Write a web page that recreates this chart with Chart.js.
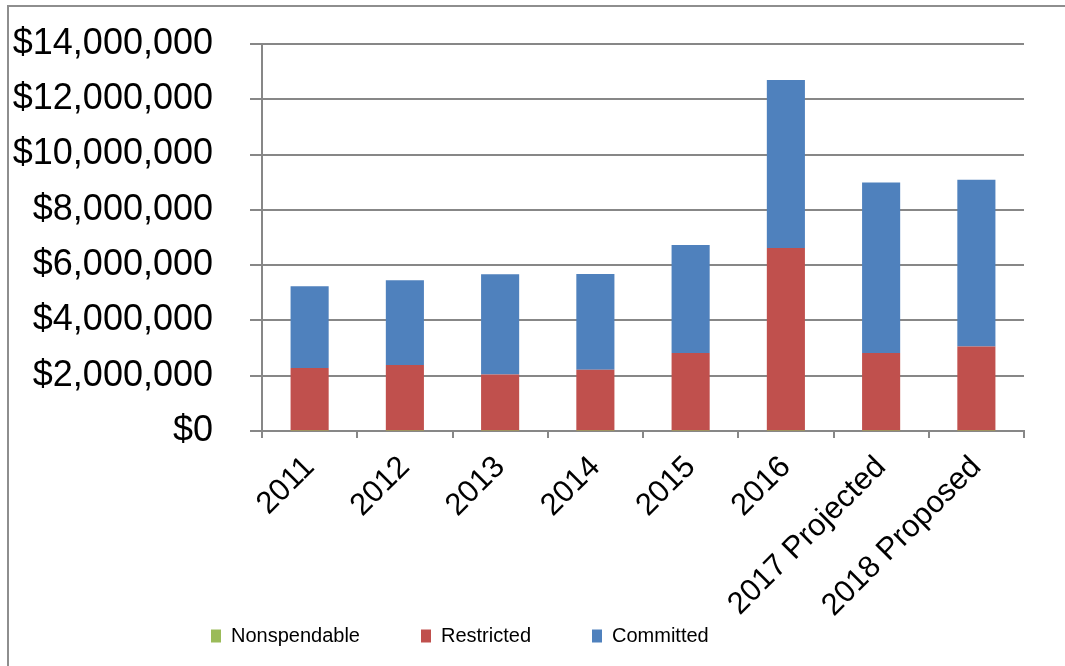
<!DOCTYPE html>
<html>
<head>
<meta charset="utf-8">
<script src="https://cdn.jsdelivr.net/npm/chart.js@4"></script>
<style>
    html, body { margin: 0; padding: 0; background: #fff; }
    #wrap { position: relative; width: 1065px; height: 666px; overflow: hidden; }
    #frame { position: absolute; left: 7px; top: 5px; width: 1200px; height: 800px; border: 2px solid #8e8e8e; pointer-events: none; }
    canvas { position: absolute; left: 0; top: 0; }
</style>
</head>
<body>
<div id="wrap">
    <canvas id="fundChart" width="1065" height="666"></canvas>
    <div id="frame"></div>
</div>
<script>
const years = ['2011', '2012', '2013', '2014', '2015', '2016', '2017 Projected', '2018 Proposed'];
const nonspendable = [20000, 20000, 20000, 20000, 20000, 20000, 20000, 20000];
const restricted = [2260000, 2370000, 2020000, 2200000, 2800000, 6600000, 2800000, 3040000];
const committed = [2960000, 3060000, 3630000, 3460000, 3910000, 6080000, 6170000, 6030000];

const gridGray = '#878787';

// legend takes no room in the layout, then gets placed by hand like the original
const legendPlace = {
    id: 'legendPlace',
    beforeLayout(chart) {
        const lg = chart.legend;
        if (lg && !lg.fitPatched) {
            const origFit = lg.fit;
            lg.fit = function () {
                origFit.call(this);
                this.height = 1;
            };
            lg.fitPatched = true;
        }
    },
    afterLayout(chart) {
        chart.legend.left = 150;
        chart.legend.top = 565;
    }
};

const ctx = document.getElementById('fundChart').getContext('2d');
window.fundChart = new Chart(ctx, {
    type: 'bar',
    data: {
        labels: years,
        datasets: [
            { label: 'Nonspendable', data: nonspendable, backgroundColor: '#9BBB59' },
            { label: 'Restricted', data: restricted, backgroundColor: '#C0504D' },
            { label: 'Committed', data: committed, backgroundColor: '#4F81BD' }
        ]
    },
    plugins: [legendPlace],
    options: {
        responsive: false,
        animation: false,
        datasets: {
            bar: { barPercentage: 0.4, categoryPercentage: 1 }
        },
        layout: {
            padding: { left: 12, right: 41, top: 44, bottom: 0 }
        },
        plugins: {
            tooltip: { enabled: false },
            legend: {
                position: 'bottom',
                align: 'start',
                labels: {
                    boxWidth: 10,
                    boxHeight: 13,
                    padding: 61,
                    color: '#000',
                    font: { family: "'Liberation Sans', Arial, sans-serif", size: 20 }
                }
            }
        },
        scales: {
            x: {
                stacked: true,
                afterFit: function (scale) { scale.height = 234; },
                grid: { drawOnChartArea: false, drawTicks: true, tickLength: 7, color: gridGray, lineWidth: 2 },
                border: { color: gridGray, width: 2 },
                ticks: {
                    minRotation: 45,
                    maxRotation: 45,
                    padding: 11,
                    color: '#000',
                    font: { family: "'Liberation Sans', Arial, sans-serif", size: 31 }
                }
            },
            y: {
                stacked: true,
                min: 0,
                max: 14000000,
                afterFit: function (scale) {
                    scale.width = 250;
                    scale.paddingTop = 0;
                    scale.paddingBottom = 0;
                },
                grid: { color: gridGray, lineWidth: 2, tickLength: 12 },
                border: { color: gridGray, width: 2 },
                ticks: {
                    stepSize: 2000000,
                    padding: 37,
                    color: '#000',
                    font: { family: "'Liberation Sans', Arial, sans-serif", size: 36 },
                    callback: function (value) {
                        return '$' + value.toLocaleString('en-US');
                    }
                }
            }
        }
    }
});
</script>
</body>
</html>
